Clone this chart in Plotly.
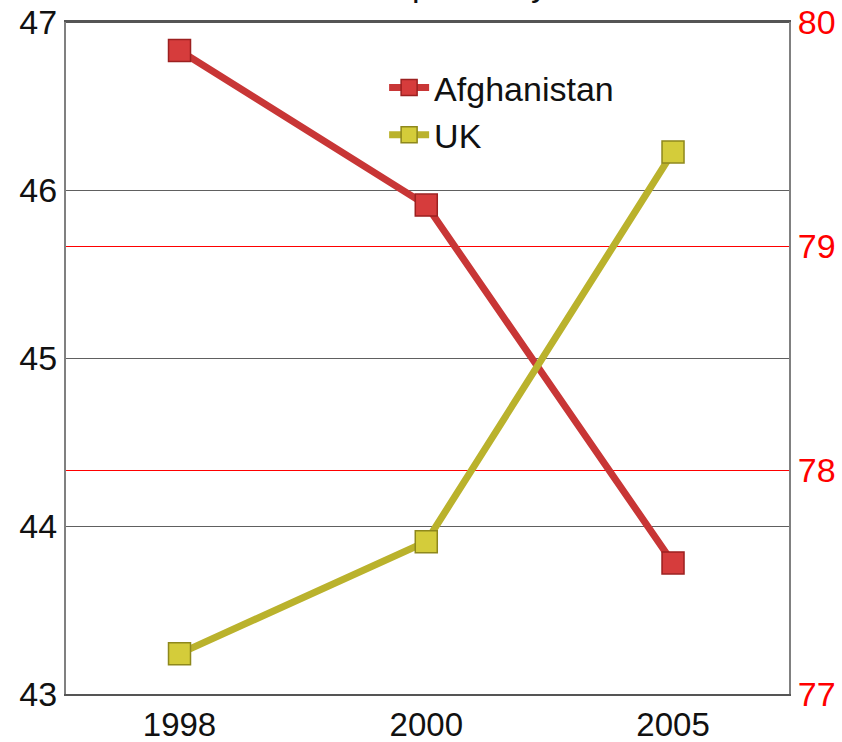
import plotly.graph_objects as go

years = ["1998", "2000", "2005"]
afghanistan = [46.83, 45.91, 43.78]
uk = [77.18, 77.68, 79.42]
left_ticks = [43, 44, 45, 46, 47]
right_ticks = [77, 78, 79, 80]

FONT = "Liberation Sans, Arial, sans-serif"

fig = go.Figure()
fig.add_trace(go.Scatter(
    x=years, y=afghanistan, name="Afghanistan", mode="lines+markers",
    line=dict(color="#c83636", width=7),
    marker=dict(symbol="square", size=22, color="#d63c3c",
                line=dict(color="#9c2020", width=1.5)),
    yaxis="y",
))
fig.add_trace(go.Scatter(
    x=years, y=uk, name="UK", mode="lines+markers",
    line=dict(color="#bab22c", width=7),
    marker=dict(symbol="square", size=22, color="#d4cc3a",
                line=dict(color="#8e881c", width=1.5)),
    yaxis="y2",
))

fig.update_layout(
    width=842, height=742,
    margin=dict(l=66, r=53, t=22, b=48, autoexpand=False),
    paper_bgcolor="white", plot_bgcolor="white",
    font=dict(family=FONT, size=34, color="#111111"),
    showlegend=True,
    legend=dict(x=0.44, y=0.945, xanchor="left", yanchor="top",
                bgcolor="rgba(0,0,0,0)", font=dict(size=34, family=FONT),
                tracegroupgap=0, itemwidth=40),
    xaxis=dict(type="category", range=[-0.46, 2.47], automargin=False,
               showline=True, linecolor="#555555", linewidth=2, mirror=True,
               showgrid=False, ticks="", tickfont=dict(size=33, color="#111111")),
    yaxis=dict(range=[43, 47], tickvals=left_ticks, ticktext=[str(t) for t in left_ticks],
               automargin=False,
               showline=True, linecolor="#808080", linewidth=2, mirror=False,
               showgrid=True, gridcolor="#606060", gridwidth=1,
               zeroline=False, ticks="", tickfont=dict(size=34, color="#111111")),
    yaxis2=dict(range=[77, 80], tickvals=right_ticks, ticktext=[str(t) for t in right_ticks],
                overlaying="y", side="right", automargin=False,
                showline=True, linecolor="#808080", linewidth=2,
                showgrid=True, gridcolor="#ff0000", gridwidth=1.2,
                zeroline=False, ticks="", tickfont=dict(size=34, color="#ff0000")),
)

fig.add_annotation(
    text="Life Expectancy", xref="paper", yref="paper", x=0.5, y=1.025,
    xanchor="center", yanchor="bottom", showarrow=False,
    font=dict(size=34, family=FONT, color="#111111"),
)

# top border line
fig.add_shape(type="line", xref="paper", yref="paper", x0=0, x1=1, y0=1, y1=1,
              line=dict(color="#555555", width=2))

fig.write_html("out.html")
